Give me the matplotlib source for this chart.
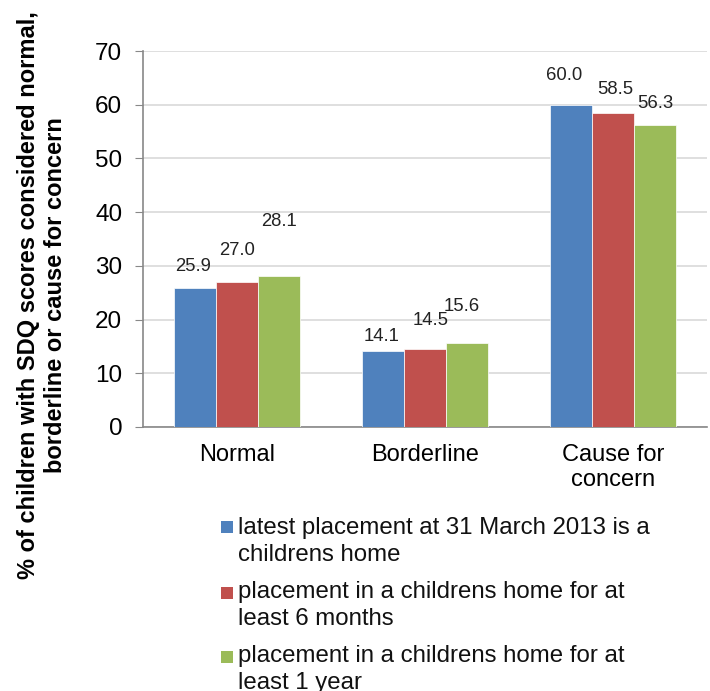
import numpy as np
import matplotlib
matplotlib.use("Agg")
import matplotlib.pyplot as plt
from matplotlib.patches import Rectangle

plt.rcParams['font.family'] = ['Liberation Sans', 'DejaVu Sans']

categories = ["Normal", "Borderline", "Cause for\nconcern"]
series_lines = [["latest placement at 31 March 2013 is a", "childrens home"],
                ["placement in a childrens home for at", "least 6 months"],
                ["placement in a childrens home for at", "least 1 year"]]
latest = [25.9, 14.1, 60.0]
six_months = [27.0, 14.5, 58.5]
one_year = [28.1, 15.6, 56.3]
colors = ["#4F81BD", "#C0504D", "#9BBB59"]

# label offsets above bar tops (Excel labels were nudged by hand)
label_dy = [[3.9, 2.7, 5.5], [5.8, 5.4, 4.4], [10.1, 6.9, 4.0]]
label_dx = [[-0.01, -0.01, -0.037], [0, 0.03, 0.01], [0, -0.03, 0]]

W, H = 710, 691
fig = plt.figure(figsize=(W / 100, H / 100), dpi=100)
ax = fig.add_axes([143 / W, 1 - 427 / H, 564 / W, 376 / H])

x = np.arange(len(categories))
w = 0.223
data = [latest, six_months, one_year]
for i, vals in enumerate(data):
    pos = x + (i - 1) * w
    ax.bar(pos, vals, width=w, color=colors[i], zorder=3,
           edgecolor="white", linewidth=0.5)
    for j, v in enumerate(vals):
        ax.text(pos[j] + label_dx[i][j], v + label_dy[i][j], f"{v:.1f}",
                ha="center", va="center", fontsize=13.3, color="#222222")

ax.set_xlim(-0.5, 2.5)
ax.set_ylim(0, 70)
ax.set_yticks(range(0, 71, 10))
ax.set_xticks(x)
ax.set_xticklabels(categories, fontsize=17, linespacing=1.22)
ax.tick_params(axis="x", length=0, pad=12)
ax.tick_params(axis="y", labelsize=17.5, length=6, color="#888888", pad=9)
ax.grid(axis="y", color="#D9D9D9", linewidth=1.2, zorder=0)
for s in ["top", "right"]:
    ax.spines[s].set_visible(False)
for s in ["left", "bottom"]:
    ax.spines[s].set_color("#888888")
    ax.spines[s].set_linewidth(1.2)

fig.text(42 / W, 1 - 295 / H, "% of children with SDQ scores considered normal,\nborderline or cause for concern",
         rotation=90, ha="center", va="center", fontsize=17, fontweight="bold",
         linespacing=1.22, multialignment="center")

# legend, drawn by hand so the swatch sits on the first line
swatch_y = [527, 593, 657]
baselines = [[534, 561], [598, 625], [662, 689]]
for i in range(3):
    fig.add_artist(Rectangle((221 / W, 1 - (swatch_y[i] + 6) / H), 12 / W, 12 / H,
                             facecolor=colors[i], edgecolor="none", transform=fig.transFigure))
    for k, line in enumerate(series_lines[i]):
        fig.text(238 / W, 1 - baselines[i][k] / H, line, ha="left", va="baseline",
                 fontsize=17.3, color="#111111")

fig.savefig("out.png", dpi=100)
